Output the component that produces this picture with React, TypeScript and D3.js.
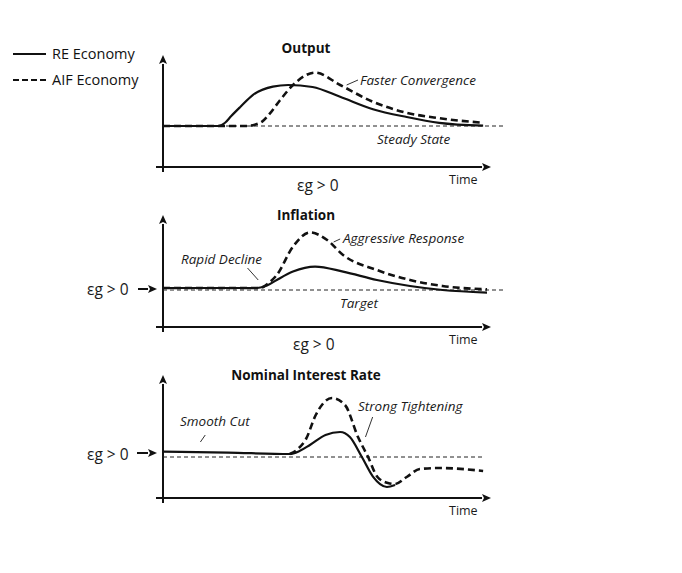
import React from "react";
import * as d3 from "d3";

type Pt = [number, number];

// Time runs 0..100 on every panel; values are deviations from the dashed reference line.
const outputRE: Pt[] = [[0, 0], [17, 0], [19, 0.15], [21, 0.5], [23.7, 0.94], [27.7, 1.56], [33.8, 1.97], [38.5, 2.05], [46, 1.95], [54.5, 1.46], [64.6, 0.84], [75, 0.45], [85, 0.16], [98.5, 0.02]];
const outputAIF: Pt[] = [[0, 0], [26, 0], [28.5, 0.08], [30.5, 0.22], [32.5, 0.55], [36, 1.29], [40, 2.05], [46.8, 2.67], [54.5, 2.05], [64.6, 1.21], [75, 0.66], [85, 0.39], [98.5, 0.16]];

const inflationRE: Pt[] = [[0, 0.1], [29, 0.1], [32, 0.22], [35, 0.5], [40, 0.92], [46.8, 1.17], [55.4, 0.92], [65.8, 0.5], [76, 0.2], [86, 0.0], [99.7, -0.13]];
const inflationAIF: Pt[] = [[0, 0.1], [29.8, 0.1], [32.5, 0.35], [35, 0.75], [40, 2.17], [45.2, 2.88], [50.5, 2.5], [55.4, 1.75], [65.8, 1.0], [76, 0.5], [86, 0.2], [99.7, 0.03]];

const rateRE: Pt[] = [[0, 0.27], [20, 0.22], [39, 0.15], [42, 0.3], [45.2, 0.6], [50, 1.1], [54.5, 1.25], [57.5, 1.0], [61.2, 0.0], [64.6, -0.98], [68.9, -1.5], [71.4, -1.4]];
const rateAIF: Pt[] = [[39, 0.15], [41.5, 0.4], [44, 0.9], [47, 2.1], [52, 2.95], [56, 2.6], [60, 1.0], [63.1, 0], [66, -1.0], [69.2, -1.3], [71.4, -1.35], [75, -1.0], [79, -0.6], [85, -0.55], [98.5, -0.7]];

const panelTitles = ["Output", "Inflation", "Nominal Interest Rate"];
const refLabels = ["Steady State", "Target", ""];
const legendLabels = ["RE Economy", "AIF Economy"];
const shockLabel = "εg > 0";
const timeLabel = "Time";

const FONT = "'Open Sans', 'DejaVu Sans', sans-serif";

const x = d3.scaleLinear().domain([0, 100]).range([163, 488]);

function yScale(base: number) {
  return d3.scaleLinear().domain([0, 1]).range([base, base - 20]);
}

const Arrow = ({ x1, y1, x2, y2 }: { x1: number; y1: number; x2: number; y2: number }) => {
  const ang = Math.atan2(y2 - y1, x2 - x1);
  const L = 9, W = 4;
  const bx = x2 - L * Math.cos(ang), by = y2 - L * Math.sin(ang);
  const px = -Math.sin(ang) * W, py = Math.cos(ang) * W;
  return (
    <g>
      <line x1={x1} y1={y1} x2={bx} y2={by} stroke="#111" strokeWidth={2} />
      <path d={`M${x2},${y2}L${bx + px},${by + py}L${bx + 2 * Math.cos(ang)},${by + 2 * Math.sin(ang)}L${bx - px},${by - py}Z`} fill="#111" />
    </g>
  );
};

const Panel = ({ base, top, axisY, re, aif, title, titleY, refLabel, refLabelX, refEnd, children }: any) => {
  const y = yScale(base);
  const line = d3.line<Pt>().x((d) => x(d[0])).y((d) => y(d[1])).curve(d3.curveMonotoneX);
  return (
    <g>
      <text x={x(44)} y={titleY} textAnchor="middle" fontWeight="bold" fontSize={13.5} fontFamily={FONT} fill="#111">{title}</text>
      <Arrow x1={163} y1={axisY + 5} x2={163} y2={top} />
      <Arrow x1={156} y1={axisY} x2={491} y2={axisY} />
      <line x1={163} x2={refEnd} y1={y(0)} y2={y(0)} stroke="#222" strokeWidth={1} strokeDasharray="4,3" />
      <path d={line(re) || ""} fill="none" stroke="#111" strokeWidth={2.2} strokeLinejoin="round" />
      <path d={line(aif) || ""} fill="none" stroke="#111" strokeWidth={2.6} strokeDasharray="7,4" />
      {refLabel && (
        <text x={refLabelX} y={y(0) + 18} fontStyle="italic" fontSize={13.5} fontFamily={FONT} fill="#1a1a1a">{refLabel}</text>
      )}
      <text x={449} y={axisY + 17} fontSize={12.5} fontFamily={FONT} fill="#1a1a1a">{timeLabel}</text>
      {children}
    </g>
  );
};

const italic = { fontStyle: "italic", fontSize: 13.5, fontFamily: FONT, fill: "#1a1a1a" } as const;
const shock = { fontSize: 15.5, fontFamily: FONT, fill: "#1a1a1a" } as const;

export default function App() {
  const y1 = yScale(126), y2 = yScale(290), y3 = yScale(457);
  return (
    <svg width={682} height={573} style={{ display: "block", position: "absolute", left: 0, top: 0, background: "#fff" }}>
      <rect width={682} height={573} fill="#fff" />
      {/* legend */}
      <line x1={13} x2={46} y1={54} y2={54} stroke="#111" strokeWidth={2} />
      <text x={52} y={59} fontSize={14.5} fontFamily={FONT} fill="#111">{legendLabels[0]}</text>
      <line x1={13} x2={46} y1={80} y2={80} stroke="#111" strokeWidth={2} strokeDasharray="6,3" />
      <text x={52} y={85} fontSize={14.5} fontFamily={FONT} fill="#111">{legendLabels[1]}</text>

      <Panel base={126} top={55} axisY={167} re={outputRE} aif={outputAIF} title={panelTitles[0]} titleY={53} refLabel={refLabels[0]} refLabelX={377} refEnd={505}>
        <line x1={x(56.5)} y1={y1(2.05)} x2={x(60)} y2={y1(2.3)} stroke="#333" strokeWidth={1} />
        <text x={360} y={85} {...italic}>Faster Convergence</text>
        <text x={297} y={191} {...shock}>{shockLabel}</text>
      </Panel>

      <Panel base={290} top={215} axisY={327} re={inflationRE} aif={inflationAIF} title={panelTitles[1]} titleY={220} refLabel={refLabels[1]} refLabelX={340} refEnd={505}>
        <line x1={x(52.5)} y1={y2(2.4)} x2={x(54.5)} y2={y2(2.55)} stroke="#333" strokeWidth={1} />
        <text x={343} y={243} {...italic}>Aggressive Response</text>
        <text x={181} y={264} {...italic}>Rapid Decline</text>
        <line x1={x(26)} y1={y2(1.1)} x2={x(29.3)} y2={y2(0.5)} stroke="#333" strokeWidth={1} />
        <text x={87} y={295} {...shock}>{shockLabel}</text>
        <Arrow x1={138} y1={289} x2={157} y2={289} />
        <text x={293} y={350} {...shock}>{shockLabel}</text>
      </Panel>

      <Panel base={457} top={375} axisY={498} re={rateRE} aif={rateAIF} title={panelTitles[2]} titleY={380} refLabel="" refLabelX={0} refEnd={484}>
        <line x1={x(62.3)} y1={y3(1.0)} x2={x(64.5)} y2={y3(2.0)} stroke="#333" strokeWidth={1} />
        <text x={358} y={411} {...italic}>Strong Tightening</text>
        <text x={180} y={426} {...italic}>Smooth Cut</text>
        <line x1={x(11.5)} y1={y3(0.75)} x2={x(13)} y2={y3(1.1)} stroke="#333" strokeWidth={1} />
        <text x={87} y={460} {...shock}>{shockLabel}</text>
        <Arrow x1={137} y1={453} x2={157} y2={453} />
      </Panel>
    </svg>
  );
}
